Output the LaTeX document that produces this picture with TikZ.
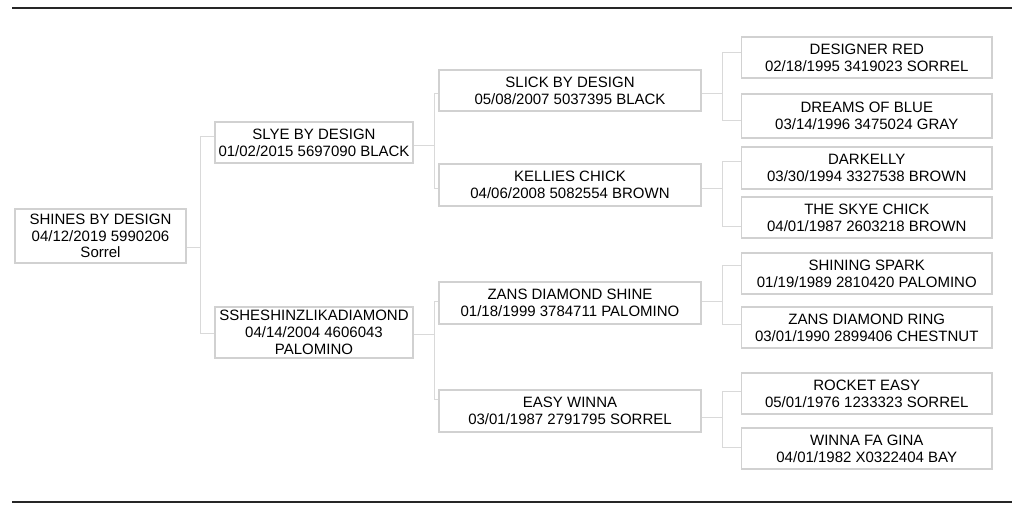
\documentclass[tikz,border=0pt]{standalone}
\usepackage{fontspec}
\setmainfont{Liberation Sans}
\begin{document}
\begin{tikzpicture}[x=1pt,y=-1pt,
  pbox/.style={draw=black!18,line width=1.5pt,fill=white,inner sep=0pt,align=center,
    font=\fontsize{15}{16.7}\selectfont,text=black},
  conn/.style={draw=black!15,line width=1pt},
  rulebar/.style={draw=black!85,line width=2pt}]
\useasboundingbox (0,0) rectangle (1024,516);
\coordinate (rl) at (12,8.5);
\coordinate (rr) at (1012,8.5);
\coordinate (bl) at (12,502);
\coordinate (br) at (1012,502);
\draw[rulebar] (rl) -- (rr);
\draw[rulebar] (bl) -- (br);
% generation 1
\node[pbox,minimum width=171pt,minimum height=54pt] (shines) at (100.5,236) {SHINES BY DESIGN\\04/12/2019 5990206\\Sorrel};
% generation 2
\node[pbox,minimum width=198pt,minimum height=41pt] (slye) at (314,142.5) {SLYE BY DESIGN\\01/02/2015 5697090 BLACK};
\node[pbox,minimum width=198pt,minimum height=51pt] (ssh) at (314,332.5) {SSHESHINZLIKADIAMOND\\04/14/2004 4606043\\PALOMINO};
% generation 3
\node[pbox,minimum width=262pt,minimum height=41pt] (slick) at (570,90.5) {SLICK BY DESIGN\\05/08/2007 5037395 BLACK};
\node[pbox,minimum width=262pt,minimum height=42pt] (kellies) at (570,185) {KELLIES CHICK\\04/06/2008 5082554 BROWN};
\node[pbox,minimum width=262pt,minimum height=42pt] (zds) at (570,303) {ZANS DIAMOND SHINE\\01/18/1999 3784711 PALOMINO};
\node[pbox,minimum width=262pt,minimum height=42pt] (easy) at (570,411) {EASY WINNA\\03/01/1987 2791795 SORREL};
% generation 4
\node[pbox,minimum width=250.5pt,minimum height=41pt] (dred) at (866.75,57.5) {DESIGNER RED\\02/18/1995 3419023 SORREL};
\node[pbox,minimum width=250.5pt,minimum height=44pt] (dreams) at (866.75,116) {DREAMS OF BLUE\\03/14/1996 3475024 GRAY};
\node[pbox,minimum width=250.5pt,minimum height=42pt] (dark) at (866.75,168) {DARKELLY\\03/30/1994 3327538 BROWN};
\node[pbox,minimum width=250.5pt,minimum height=41pt] (skye) at (866.75,217.5) {THE SKYE CHICK\\04/01/1987 2603218 BROWN};
\node[pbox,minimum width=250.5pt,minimum height=41pt] (spark) at (866.75,273.5) {SHINING SPARK\\01/19/1989 2810420 PALOMINO};
\node[pbox,minimum width=250.5pt,minimum height=41pt] (ring) at (866.75,327.5) {ZANS DIAMOND RING\\03/01/1990 2899406 CHESTNUT};
\node[pbox,minimum width=250.5pt,minimum height=41pt] (rocket) at (866.75,393.5) {ROCKET EASY\\05/01/1976 1233323 SORREL};
\node[pbox,minimum width=250.5pt,minimum height=41pt] (gina) at (866.75,448.5) {WINNA FA GINA\\04/01/1982 X0322404 BAY};
% connectors: parent, junction x, parent y, child A, y A, child B, y B
\newcommand{\pedlink}[7]{%
  \draw[conn] (#1.east |- {(0,#3)}) -- (#2,#3);
  \draw[conn] (#4.west |- {(0,#5)}) -- (#2,#5) -- (#2,#7) -- (#6.west |- {(0,#7)});}
\pedlink{shines}{200}{247}{slye}{136}{ssh}{333}
\pedlink{slye}{434}{145}{slick}{94}{kellies}{188}
\pedlink{ssh}{434}{334}{zds}{301}{easy}{399}
\pedlink{slick}{722}{94}{dred}{53}{dreams}{120}
\pedlink{kellies}{722}{188}{dark}{161}{skye}{226}
\pedlink{zds}{722}{301}{spark}{265}{ring}{324}
\pedlink{easy}{722}{417}{rocket}{391}{gina}{447}
\end{tikzpicture}
\end{document}
